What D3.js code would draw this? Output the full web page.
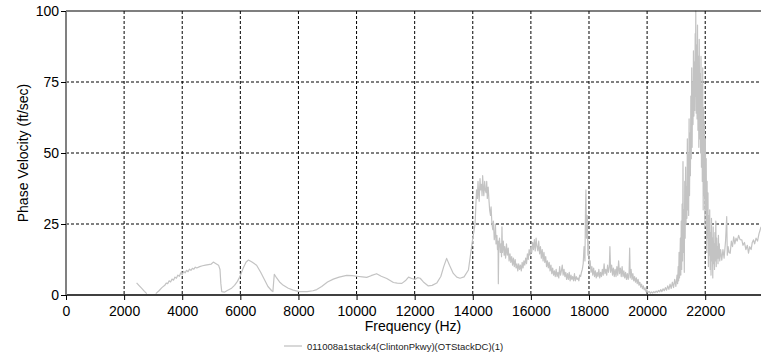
<!DOCTYPE html>
<html><head><meta charset="utf-8">
<script src="https://cdn.jsdelivr.net/npm/d3@7"></script>
<style>body{margin:0;background:#fff;}svg{display:block;font-family:"Liberation Sans",Arial,sans-serif;}</style>
</head><body>
<svg id="chart" width="761" height="361"></svg>
<script>
const xTicks = [0,2000,4000,6000,8000,10000,12000,14000,16000,18000,20000,22000];
const yTicks = [0,25,50,75,100];
const seriesName = "011008a1stack4(ClintonPkwy)(OTStackDC)(1)";
const xLabel = "Frequency (Hz)";
const yLabel = "Phase Velocity (ft/sec)";
// [frequency Hz, phase velocity ft/sec]; null velocity = gap
const lowBand = [[2430,4.3],[2500,3.5],[2600,2.4],[2700,1.3],[2780,0.5],[2800,null],
 [3090,0.5],[3200,1.5],[3300,2.6],[3400,3.4],[3450,4.2],[3500,4.0],[3550,5.0],[3600,4.6],[3650,5.6],[3700,5.2],[3750,6.3],[3800,5.9],[3850,7.0],[3900,6.6],[3950,7.8],[4000,7.2],[4050,8.3],[4100,7.8],[4150,8.7],[4200,8.2],[4250,9.1],[4300,8.7],[4350,9.4],[4400,9.1],[4450,9.8],[4500,9.5],[4600,10.0],[4700,10.3],[4800,10.5],[4900,10.7],[5000,10.9],[5070,11.6],[5150,11.1],[5250,10.5],[5300,9.0],[5330,4.0],[5360,1.2],[5450,1.0],[5550,1.6],[5700,2.4],[5800,3.4],[5900,4.8],[5990,6.6],[6100,9.5],[6200,11.6],[6280,12.3],[6400,11.6],[6560,10.5],[6700,8.0],[6850,5.0],[6950,3.0],[7080,1.5],[7120,1.2],[7150,5.0],[7170,7.3],[7250,6.0],[7350,4.6],[7480,3.4],[7650,2.4],[7820,1.7],[8030,1.2],[8300,1.2],[8500,1.5],[8630,1.9],[8800,3.0],[9000,4.6],[9200,5.6],[9400,6.3],[9660,6.9],[9850,6.8],[10010,6.6],[10200,6.4],[10350,6.2],[10500,6.8],[10690,7.5],[10850,6.6],[11040,5.8],[11270,4.4],[11400,4.2],[11560,4.1],[11700,5.2],[11790,6.3],[11900,5.8],[12010,5.5],[12100,6.1],[12190,5.9],[12300,4.6],[12470,3.2],[12600,3.4],[12760,4.2],[12900,6.5],[13000,10],[13100,12.9],[13200,10.5],[13330,7.6],[13450,6.3],[13560,5.9],[13700,6.4],[13850,8.8],[13960,17],[14000,20],[14080,25]];
const midBand = [[14100,30],[14130,37],[14160,34],[14180,40],[14200,36],[14220,33],[14250,41],[14270,37],[14300,39],[14320,35],[14340,42],[14360,38],[14380,35],[14410,40],[14430,37],[14460,36],[14480,40],[14500,34],[14530,38],[14560,33],[14580,30],[14610,28],[14630,31],[14660,25],[14690,23],[14710,26],[14740,19.5],[14770,22],[14780,25],[14800,18],[14830,21],[14850,16],[14870,19],[14880,4],[14895,17],[14920,20],[14950,15],[14970,18],[14990,13.5],[15005,24],[15020,15],[15050,19],[15080,14],[15100,17],[15130,13],[15160,18],[15190,14],[15220,16.5],[15250,12],[15280,14.5],[15310,11.5],[15340,13.5],[15370,10.5],[15400,13],[15430,10],[15460,12.5],[15490,9.5],[15520,11],[15550,8.5],[15580,11],[15610,9],[15640,10.5],[15670,8.5],[15700,11.5],[15730,9.5],[15760,12],[15790,10.5],[15820,13],[15850,11],[15880,14.5],[15910,12.5],[15940,16],[15970,14],[16000,17],[16030,15],[16060,18.5],[16090,16],[16120,19.5],[16150,15.5],[16180,20],[16210,17],[16240,15.5],[16270,19],[16300,14.5],[16330,17],[16360,13],[16390,16],[16420,12],[16450,15],[16480,11.5],[16510,13.5],[16540,10],[16570,12],[16600,9.5],[16630,11.5],[16660,8.5],[16690,10.5],[16720,7.5],[16750,9.5],[16780,7],[16810,8.5],[16840,6.5],[16870,9],[16900,6.5],[16930,8],[16960,6],[16990,10],[17020,7],[17050,8.5],[17080,10.5],[17110,7],[17140,9],[17170,6.5],[17200,8],[17230,5.5],[17260,7.5],[17290,5.5],[17320,8],[17350,5],[17380,7],[17410,5.5],[17440,6.5],[17470,5],[17500,7.5],[17530,5],[17560,6.5],[17590,5.5],[17620,6],[17650,5],[17680,7],[17710,6.5],[17740,8],[17770,9],[17800,11],[17830,17],[17860,12],[17880,30],[17895,37],[17915,20],[17940,28],[17960,14],[17985,19],[18010,10],[18040,12],[18070,8],[18100,10],[18130,7],[18160,9.5],[18190,6.5],[18220,8.5],[18250,6],[18280,8],[18310,6.5],[18340,9],[18370,6],[18400,8],[18430,6.5],[18460,9],[18490,7],[18520,11],[18550,7.5],[18580,9],[18610,7],[18640,10.5],[18670,8],[18700,10],[18720,17],[18745,8],[18780,10.5],[18810,7],[18840,9.5],[18870,6.5],[18900,9],[18930,6.5],[18960,10],[18990,7],[19020,12],[19050,7.5],[19080,9.5],[19110,6.5],[19140,10],[19170,6.5],[19200,8.5],[19230,6],[19260,8],[19290,5.5],[19320,7.5],[19350,5.5],[19380,8],[19400,16.5],[19420,6],[19450,9],[19480,5.5],[19510,7.5],[19540,5],[19570,6.5],[19600,4.5],[19630,6],[19660,4],[19690,5.5],[19720,3.5],[19750,4.5],[19780,2.8],[19810,3.8],[19840,2.2],[19870,3.2],[19900,1.8],[19930,2.5],[19960,1.2],[19990,1.8],[20030,0.9],[20070,1.3],[20110,0.6],[20150,1.1],[20190,0.7],[20230,1.2],[20270,0.8],[20310,1.4],[20350,0.9],[20390,1.6],[20430,1.1],[20470,1.9],[20510,1.2],[20550,2.2],[20590,1.5],[20630,2.6],[20670,1.7],[20710,3.2],[20750,2],[20790,3.8],[20830,2.3],[20870,4.5],[20910,2.6],[20950,5.5],[20990,3],[21030,7]];
const highBand = [[21050,4],[21070,10],[21085,5],[21100,15],[21115,6],[21130,12],[21145,20],[21160,7],[21175,26],[21190,9],[21205,32],[21220,12],[21235,47],[21250,15],[21265,30],[21280,8],[21295,40],[21310,20],[21325,45],[21340,25],[21355,38],[21370,27],[21385,55],[21400,30],[21415,50],[21430,28],[21445,62],[21460,35],[21475,57],[21490,42],[21505,70],[21520,48],[21535,80],[21550,52],[21565,75],[21580,60],[21595,86],[21610,63],[21625,82],[21640,65],[21655,92],[21665,70],[21675,100],[21690,64],[21705,88],[21720,62],[21735,95],[21750,58],[21765,84],[21780,52],[21795,90],[21810,55],[21825,78],[21840,50],[21855,84],[21870,45],[21885,74],[21900,40],[21915,80],[21930,30],[21945,66],[21960,35],[21975,60],[21990,24],[22005,55],[22020,30],[22035,48],[22050,15],[22065,40],[22080,20],[22095,36],[22110,10],[22125,28],[22140,14],[22155,30],[22170,9],[22185,22],[22200,7],[22215,27],[22230,12],[22245,20],[22260,6],[22275,24],[22290,11],[22305,18],[22320,9],[22335,22],[22350,12],[22365,26],[22380,10],[22395,20],[22410,13],[22425,17],[22440,11],[22455,21],[22470,13],[22485,18],[22500,12],[22530,16],[22570,12.3],[22610,16],[22650,13],[22700,19],[22740,27.6],[22760,14],[22790,17],[22820,15],[22860,14.7],[22900,19],[22940,17],[22980,20.5],[23020,18],[23060,20],[23100,19],[23150,21],[23200,19.5],[23260,19.4],[23300,17.5],[23350,18.5],[23400,16],[23450,17.5],[23490,14.7],[23530,17],[23580,16],[23620,18.5],[23660,19.4],[23700,18],[23750,20],[23800,19],[23850,21.5],[23890,22.9],[23920,24]];

const svg = d3.select("#chart");
const L = 66, R = 761, T = 11, B = 295;
const x = d3.scaleLinear().domain([0, 23920]).range([L, R]);
const y = d3.scaleLinear().domain([0, 100]).range([B, T]);

// grid
svg.append("g").selectAll("line").data(xTicks.filter(d => d > 0)).join("line")
  .attr("x1", d => x(d)).attr("x2", d => x(d)).attr("y1", T).attr("y2", B)
  .attr("stroke", "#000").attr("stroke-width", 1).attr("stroke-dasharray", "3,2");
svg.append("g").selectAll("line").data(yTicks.filter(d => d > 0 && d < 100)).join("line")
  .attr("x1", L).attr("x2", R).attr("y1", d => y(d)).attr("y2", d => y(d))
  .attr("stroke", "#000").attr("stroke-width", 1).attr("stroke-dasharray", "3,2");

// data line
const data = lowBand.concat(midBand, highBand);
const line = d3.line().defined(d => d[1] !== null).x(d => x(d[0])).y(d => y(d[1]));
svg.append("path").datum(data).attr("d", line)
  .attr("fill", "none").attr("stroke", "#c3c3c3").attr("stroke-width", 1.2).attr("stroke-linejoin", "round");

// top border
svg.append("line").attr("x1", L).attr("x2", R).attr("y1", T).attr("y2", T).attr("stroke", "#000").attr("stroke-width", 1.2);

// axes
const xAxis = d3.axisBottom(x).tickValues(xTicks).tickSize(5).tickFormat(d3.format("d"));
const gx = svg.append("g").attr("transform", `translate(0,${B})`).call(xAxis);
gx.select(".domain").attr("d", `M${L},0H${R}`).attr("stroke", "#000").attr("stroke-width", 1.5);
gx.selectAll(".tick line").attr("stroke", "#000");
gx.selectAll("text").attr("font-size", 14).attr("fill", "#000").attr("dy", "0.95em").attr("font-family", "Liberation Sans, Arial, sans-serif");

const yAxis = d3.axisLeft(y).tickValues(yTicks).tickSize(5).tickPadding(2);
const gy = svg.append("g").attr("transform", `translate(${L},0)`).call(yAxis);
gy.select(".domain").attr("d", `M0,${T}V${B}`).attr("stroke", "#808080").attr("stroke-width", 2);
gy.selectAll(".tick line").attr("stroke", "#000");
gy.selectAll("text").attr("font-size", 14).attr("fill", "#000").attr("font-family", "Liberation Sans, Arial, sans-serif");

// titles
svg.append("text").attr("x", (L + R) / 2 - 0.5).attr("y", 331).attr("text-anchor", "middle")
  .attr("font-size", 14).attr("fill", "#000").text(xLabel);
svg.append("text").attr("transform", `translate(28,${(T + B) / 2}) rotate(-90)`).attr("text-anchor", "middle")
  .attr("font-size", 14).attr("fill", "#000").text(yLabel);

// legend
const lg = svg.append("g").attr("transform", "translate(284,346)");
lg.append("line").attr("x1", 0).attr("x2", 18).attr("y1", 0).attr("y2", 0).attr("stroke", "#c3c3c3").attr("stroke-width", 1.3);
lg.append("text").attr("x", 23).attr("y", 3.5).attr("font-size", 9.5).attr("fill", "#222").text(seriesName);
</script>
</body></html>
